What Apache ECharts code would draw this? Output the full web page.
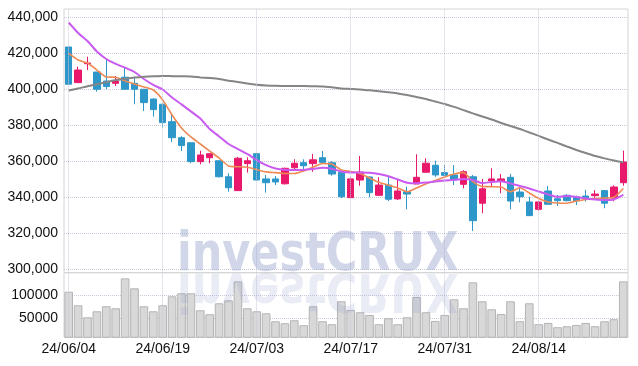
<!DOCTYPE html>
<html>
<head>
<meta charset="utf-8">
<script src="https://cdn.jsdelivr.net/npm/echarts@6/dist/echarts.min.js"></script>
<style>
html,body{margin:0;padding:0;background:#fff;}
#c{width:638px;height:366px;}
</style>
</head>
<body>
<div id="c"></div>
<script>
const dates = ["24/06/04","24/06/05","24/06/07","24/06/10","24/06/11","24/06/12","24/06/13","24/06/14","24/06/17","24/06/18","24/06/19","24/06/20","24/06/21","24/06/24","24/06/25","24/06/26","24/06/27","24/06/28","24/07/01","24/07/02","24/07/03","24/07/04","24/07/05","24/07/08","24/07/09","24/07/10","24/07/11","24/07/12","24/07/15","24/07/16","24/07/17","24/07/18","24/07/19","24/07/22","24/07/23","24/07/24","24/07/25","24/07/26","24/07/29","24/07/30","24/07/31","24/08/01","24/08/02","24/08/05","24/08/06","24/08/07","24/08/08","24/08/09","24/08/12","24/08/13","24/08/14","24/08/16","24/08/19","24/08/20","24/08/21","24/08/22","24/08/23","24/08/26","24/08/27","24/08/28"];

const opens  = [423500,403700,414200,409600,404600,403300,406700,403300,400000,394600,391700,382000,373100,370300,359800,362000,360300,351400,343700,358700,364200,350200,350200,347500,356400,359200,358700,362000,359200,353900,339800,349600,351300,341100,346800,339100,343100,347400,353900,357800,353700,352400,347200,351400,336700,349100,349100,351100,342900,337400,333300,343500,339200,341100,340200,340700,340900,343700,339600,348100];
const closes = [402800,410700,414600,400000,401500,404600,400000,400000,392600,388700,381500,373100,368700,359800,363500,364200,351400,345300,361700,360300,349600,348100,348500,356100,358900,357500,360800,359400,352900,340300,350200,354000,342600,346800,338900,343500,341800,351100,358900,352400,352200,349600,354200,327000,344700,350200,350200,337900,340300,329800,337400,336100,338100,338100,338000,339200,341800,336700,345700,359600];
const lows   = [402800,403700,410700,398700,400000,401800,400000,391700,387900,384800,378700,370600,365700,358900,358300,358900,351000,343100,343500,353700,349000,342600,346800,347100,355200,355600,354200,358500,352000,339500,339500,346400,340000,341100,337900,338500,333300,347400,353900,351400,352000,346800,345000,321300,331100,345900,342200,333300,337200,329800,332400,336100,335200,337800,335700,337600,339500,333900,337800,346400];
const highs  = [423500,412600,418100,409600,416800,407400,412000,407000,400000,395000,392000,386700,374000,370300,365900,364500,360300,353300,362400,362200,364500,352400,351800,356500,361100,361100,364100,365700,360000,354000,351000,362900,351400,351100,351400,350300,345900,363900,361700,360300,357900,357900,355000,352400,350200,356100,352900,352900,345300,340300,337600,346300,341300,341700,340900,344000,344000,344000,346700,365900];

const volumes = [107100,77900,52100,65000,75800,71500,135800,114400,75800,65000,77900,97200,103700,103700,67200,58600,82200,88600,129400,71500,65000,60700,43600,39300,45700,35000,75800,43600,37100,86500,67800,62900,57100,37100,50000,37100,52100,95700,62900,44200,57100,90800,71500,127300,86500,69300,59200,86500,43600,82200,37100,39900,30700,32800,35600,39900,32800,43600,47900,129400];

const maShort = [419900,416300,414600,410700,406800,406700,404600,402900,401300,399600,394100,385700,378500,373500,369600,365700,361800,357400,357000,356700,355400,354100,353700,353200,353200,354600,356800,358800,358500,355200,354300,353200,350700,348300,346700,345200,343100,345200,347400,349300,351300,352900,353700,348700,346000,345900,345700,343100,345300,342400,339300,337400,336800,336700,337900,338800,339300,339600,340000,344900];
const maMid = [437100,431300,426800,421000,416800,414100,412000,409600,405700,402400,399900,395400,391600,387700,383800,377900,373800,369600,366800,364100,360700,357900,356000,355300,355200,355200,355700,356400,355900,354300,353800,353800,353600,352900,351700,349900,348100,347800,348200,348800,349300,349700,350200,349600,347900,348500,348900,347700,346300,344900,343200,341600,340200,340700,340200,339300,338800,338500,338800,341300];
const maLong = [399300,400400,401700,402800,403900,405100,405900,406600,406900,407200,407400,407300,407200,407100,406600,406200,405700,404800,404100,403200,402500,402100,401900,401800,401800,401800,401700,401600,401100,400500,400200,399900,399400,398900,398300,397700,396800,395700,394600,393200,391800,390200,388400,386600,384900,383200,381300,379600,377900,376000,374100,372100,370200,368200,366300,364600,362900,361600,360400,359400];

const priceTicks = [300000,320000,340000,360000,380000,400000,420000,440000];
const volumeTicks = [50000,100000];
const markDates = dates.filter((d,i)=> i % 10 === 0);

const candleData = dates.map((d,i)=>[opens[i],closes[i],lows[i],highs[i]]);

const FONT = '"Liberation Sans",Arial,sans-serif';
const WM_FONT = 'bold 54px "DejaVu Sans Condensed","DejaVu Sans",sans-serif';
const gridLineColor = '#c9c9dc';

const chart = echarts.init(document.getElementById('c'), null, {renderer:'canvas'});
const vLines = {
  silent: true, symbol: ['none','none'], label:{show:false},
  lineStyle:{type:'dotted', color:gridLineColor, width:1},
  data: markDates.map(d=>({xAxis:d}))
};

chart.setOption({
  animation:false,
  backgroundColor:'#fff',
  grid:[
    {left:64, right:10, top:9, height:263.7, show:true, borderColor:'#d4d4d4', borderWidth:1},
    {left:64, right:10, top:272.7, height:64.6, show:true, borderColor:'#d4d4d4', borderWidth:1}
  ],
  xAxis:[
    {type:'category', gridIndex:0, data:dates, boundaryGap:true,
     axisLine:{show:false}, axisTick:{show:false}, axisLabel:{show:false}, splitLine:{show:false}},
    {type:'category', gridIndex:1, data:dates, boundaryGap:true,
     axisLine:{show:false}, axisTick:{show:false}, splitLine:{show:false},
     axisLabel:{show:true, interval:9, margin:5, color:'#111', fontSize:14, fontFamily:FONT}}
  ],
  yAxis:[
    {type:'value', gridIndex:0, min:298100, max:444600, scale:true,
     axisLine:{show:false},
     axisTick:{show:false, customValues:priceTicks},
     axisLabel:{customValues:priceTicks, color:'#111', fontSize:14, fontFamily:FONT, margin:6,
       formatter:v=>v.toLocaleString('en-US')},
     splitLine:{show:true, lineStyle:{type:'dotted', color:gridLineColor}}},
    {type:'value', gridIndex:1, min:9000, max:148000,
     axisLine:{show:false},
     axisTick:{show:false, customValues:volumeTicks},
     axisLabel:{customValues:volumeTicks, color:'#111', fontSize:14, fontFamily:FONT, margin:6,
       formatter:v=>String(v)},
     splitLine:{show:true, lineStyle:{type:'dotted', color:gridLineColor}}}
  ],
  series:[
    {type:'candlestick', name:'price', xAxisIndex:0, yAxisIndex:0, data:candleData, barWidth:7,
     itemStyle:{color:'#e8196b', color0:'#2e97c9', borderColor:'#e8196b', borderColor0:'#2e97c9', borderWidth:1},
     markLine:vLines, z:2},
    {type:'line', name:'MA5', data:maShort, xAxisIndex:0, yAxisIndex:0, showSymbol:false, smooth:0.2,
     lineStyle:{color:'#ef8a55', width:1.6}, z:3},
    {type:'line', name:'MA20', data:maMid, xAxisIndex:0, yAxisIndex:0, showSymbol:false, smooth:0.2,
     lineStyle:{color:'#c95bf0', width:2}, z:3},
    {type:'line', name:'MA60', data:maLong, xAxisIndex:0, yAxisIndex:0, showSymbol:false, smooth:0.2,
     lineStyle:{color:'#858585', width:2}, z:3},
    {type:'bar', name:'volume', data:volumes, xAxisIndex:1, yAxisIndex:1, barCategoryGap:'8%',
     itemStyle:{color:'#d8d8d8', borderColor:'#b4b4b4', borderWidth:1},
     markLine:vLines, z:2}
  ],
  graphic:[
    {type:'text', x:177, y:256, scaleX:0.885, z:100, silent:true,
     style:{text:'investCRUX', font:WM_FONT, fill:'rgba(150,162,205,0.44)', align:'left', verticalAlign:'middle'}},
    {type:'text', x:177, y:288, scaleX:0.885, scaleY:-1, z:100, silent:true,
     style:{text:'investCRUX', font:WM_FONT, fill:'rgba(150,162,205,0.2)', align:'left', verticalAlign:'middle'}}
  ]
});
</script>
</body>
</html>
